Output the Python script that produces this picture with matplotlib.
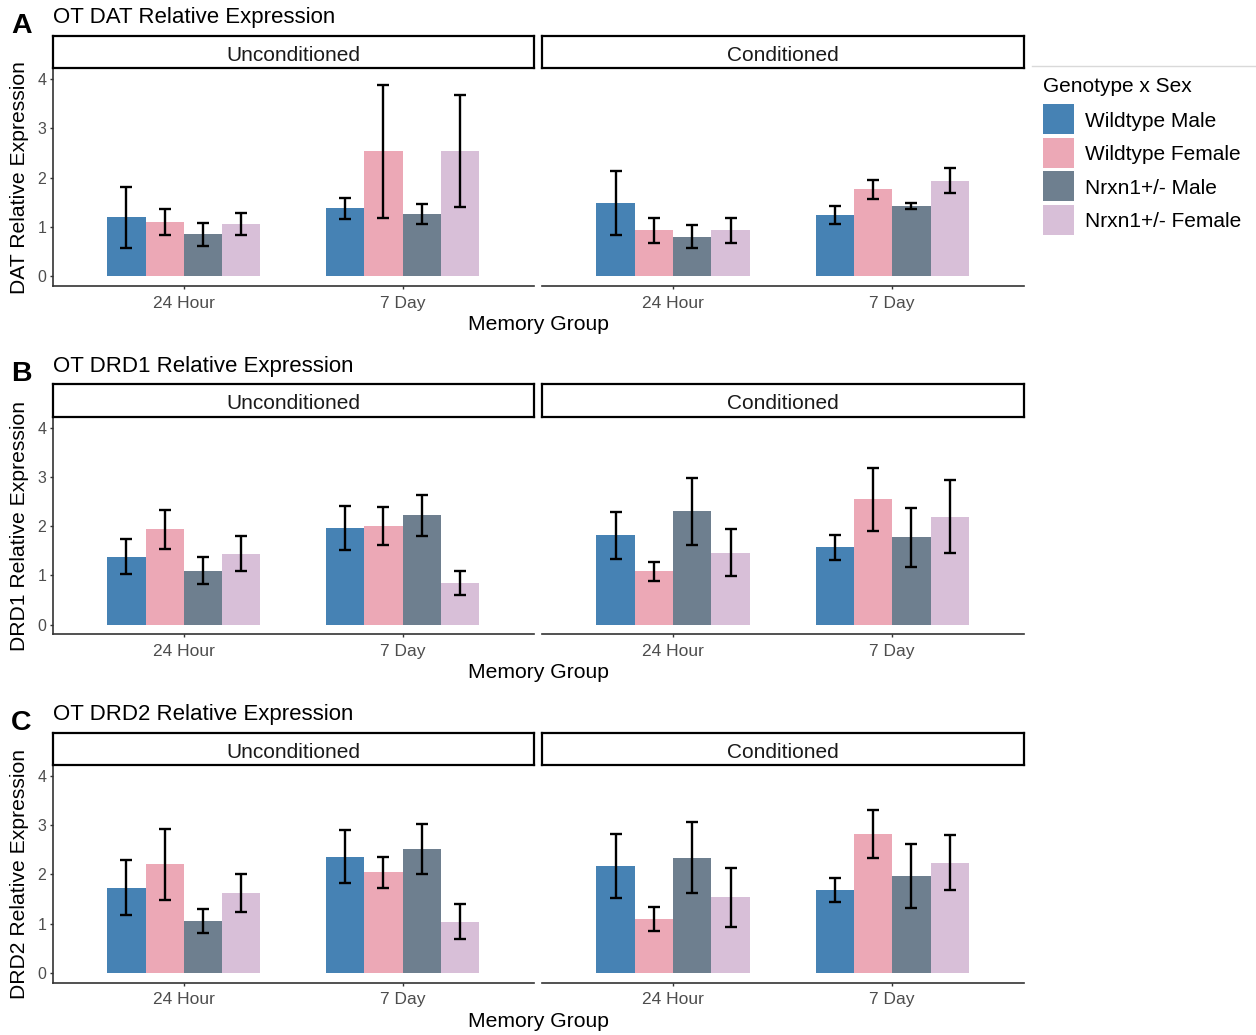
import matplotlib
matplotlib.use("Agg")
import matplotlib.pyplot as plt
from matplotlib.patches import Rectangle
import numpy as np

plt.rcParams['font.family'] = ['Liberation Sans', 'DejaVu Sans']

# ---- data -------------------------------------------------------------
memory_groups = ["24 Hour", "7 Day"]
conditions = ["Unconditioned", "Conditioned"]
genotypes = ["Wildtype Male", "Wildtype Female", "Nrxn1+/- Male", "Nrxn1+/- Female"]
genes = ["DAT", "DRD1", "DRD2"]
panel_letters = ["A", "B", "C"]
colors = ["#4682B4", "#ECA8B6", "#6E7F8F", "#D8BFD8"]

# mean relative expression, rows = genotype, cols = memory group
dat_uncond_mean = [[1.20, 1.38], [1.10, 2.54], [0.85, 1.26], [1.05, 2.54]]
dat_uncond_se = [[0.62, 0.21], [0.255, 1.35], [0.23, 0.205], [0.225, 1.135]]
dat_cond_mean = [[1.49, 1.24], [0.93, 1.76], [0.80, 1.43], [0.93, 1.94]]
dat_cond_se = [[0.645, 0.19], [0.25, 0.19], [0.23, 0.065], [0.25, 0.26]]

drd1_uncond_mean = [[1.38, 1.96], [1.93, 2.00], [1.09, 2.22], [1.44, 0.84]]
drd1_uncond_se = [[0.355, 0.445], [0.39, 0.385], [0.275, 0.42], [0.355, 0.245]]
drd1_cond_mean = [[1.81, 1.57], [1.08, 2.54], [2.30, 1.77], [1.46, 2.19]]
drd1_cond_se = [[0.47, 0.255], [0.19, 0.64], [0.685, 0.60], [0.48, 0.745]]

drd2_uncond_mean = [[1.73, 2.36], [2.20, 2.04], [1.06, 2.51], [1.62, 1.04]]
drd2_uncond_se = [[0.555, 0.54], [0.715, 0.315], [0.245, 0.505], [0.395, 0.35]]
drd2_cond_mean = [[2.17, 1.68], [1.10, 2.82], [2.34, 1.97], [1.53, 2.24]]
drd2_cond_se = [[0.645, 0.24], [0.245, 0.485], [0.715, 0.65], [0.59, 0.555]]

y_ticks = [0, 1, 2, 3, 4]

gene_data = {
    "DAT": [(dat_uncond_mean, dat_uncond_se), (dat_cond_mean, dat_cond_se)],
    "DRD1": [(drd1_uncond_mean, drd1_uncond_se), (drd1_cond_mean, drd1_cond_se)],
    "DRD2": [(drd2_uncond_mean, drd2_uncond_se), (drd2_cond_mean, drd2_cond_se)],
}

# ---- layout (pixel units) --------------------------------------------
W, H = 1256, 1035
fig = plt.figure(figsize=(W / 100, H / 100), dpi=100)


def rect(x0, y0, x1, y1):
    return [x0 / W, 1 - y1 / H, (x1 - x0) / W, (y1 - y0) / H]


panel_tops = [68.3, 416.7, 765.0]
plot_h = 217.7
strip_h = 32.5
panel_x = [(52.7, 533.7), (541.7, 1023.7)]
bar_w = 0.175
offsets = (np.arange(4) - 1.5) * bar_w
data_max = 4.02
ylim = (-0.05 * data_max, 1.05 * data_max)

tick_col = "#4D4D4D"
axis_col = "#333333"

for gi, gene in enumerate(genes):
    top = panel_tops[gi]
    bottom = top + plot_h
    for ci, cond in enumerate(conditions):
        x0, x1 = panel_x[ci]
        ax = fig.add_axes(rect(x0, top, x1, bottom))
        means, ses = gene_data[gene][ci]
        xc = np.arange(len(memory_groups))
        for k in range(len(genotypes)):
            ax.bar(xc + offsets[k], means[k], width=bar_w, color=colors[k],
                   edgecolor="none", zorder=2)
            ax.errorbar(xc + offsets[k], means[k], yerr=ses[k], fmt="none",
                        ecolor="black", elinewidth=1.7, capsize=4.3,
                        capthick=1.7, zorder=3)
        ax.set_xlim(-0.6, 1.6)
        ax.set_ylim(*ylim)
        ax.set_xticks(xc)
        ax.set_xticklabels(memory_groups, fontsize=12.5, color=tick_col)
        ax.tick_params(axis="x", length=2.5, width=1, color=axis_col, pad=4.5)
        for s in ["top", "right"]:
            ax.spines[s].set_visible(False)
        ax.spines["bottom"].set_color(axis_col)
        ax.spines["bottom"].set_linewidth(1.2)
        if ci == 0:
            ax.set_yticks(y_ticks)
            ax.set_yticklabels([str(t) for t in y_ticks], fontsize=11.5, color=tick_col)
            ax.tick_params(axis="y", length=2.5, width=1, color=axis_col, pad=2)
            ax.spines["left"].set_color(axis_col)
            ax.spines["left"].set_linewidth(1.2)
        else:
            ax.spines["left"].set_visible(False)
            ax.set_yticks([])

        # facet strip
        sax = fig.add_axes(rect(x0, top - strip_h, x1, top))
        sax.set_xticks([])
        sax.set_yticks([])
        for s in sax.spines.values():
            s.set_linewidth(1.6)
            s.set_color("black")
        sax.text(0.5, 0.40, cond, ha="center", va="center", fontsize=15,
                 color="#1A1A1A", transform=sax.transAxes)

# ---- overlay for titles, axis titles and legend ----------------------
ov = fig.add_axes([0, 0, 1, 1])
ov.set_xlim(0, W)
ov.set_ylim(H, 0)
ov.axis("off")
ov.patch.set_visible(False)

for gi, gene in enumerate(genes):
    top = panel_tops[gi]
    bottom = top + plot_h
    ov.text(11, top - 35.5, panel_letters[gi], fontsize=20.5, fontweight="bold",
            ha="left", va="baseline", color="black")
    ov.text(53, top - 45, f"OT {gene} Relative Expression", fontsize=16,
            ha="left", va="baseline", color="black")
    ov.text(20, (top + bottom) / 2, f"{gene} Relative Expression", fontsize=15.2,
            rotation=90, ha="center", va="center", color="black")
    ov.text((panel_x[0][0] + panel_x[1][1]) / 2, bottom + 44, "Memory Group",
            fontsize=15.2, ha="center", va="baseline", color="black")

# legend
ov.plot([1032, 1256], [65.7, 65.7], color="#D9D9D9", lw=1)
ov.text(1043, 92, "Genotype x Sex", fontsize=15, ha="left", va="baseline",
        color="black")
for k, (lab, col) in enumerate(zip(genotypes, colors)):
    ky = 104.3 + k * 33.4
    ov.add_patch(Rectangle((1043.3, ky), 31, 30, facecolor=col, edgecolor="none"))
    ov.text(1085, ky + 17, lab, fontsize=15, ha="left", va="center", color="black")

fig.savefig("out.png", dpi=100, facecolor="white")
